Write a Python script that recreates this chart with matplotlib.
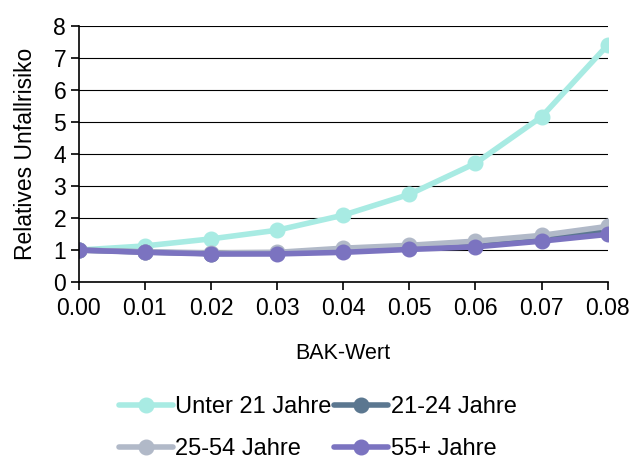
import numpy as np
import matplotlib
matplotlib.use("Agg")
import matplotlib.pyplot as plt
from matplotlib.ticker import FormatStrFormatter

plt.rcParams['font.family'] = ['Liberation Sans', 'DejaVu Sans']

# Daten
bak = [0.00, 0.01, 0.02, 0.03, 0.04, 0.05, 0.06, 0.07, 0.08]
unter_21 = [1.0, 1.13, 1.35, 1.62, 2.09, 2.74, 3.71, 5.16, 7.4]
jahre_21_24 = [1.0, 0.94, 0.89, 0.90, 0.98, 1.08, 1.2, 1.38, 1.65]
jahre_25_54 = [1.0, 0.95, 0.91, 0.93, 1.06, 1.15, 1.28, 1.46, 1.74]
jahre_55 = [1.0, 0.93, 0.88, 0.88, 0.93, 1.02, 1.10, 1.28, 1.49]

series = [
    ("Unter 21 Jahre", unter_21, "#a8ebe3"),
    ("21-24 Jahre", jahre_21_24, "#5b7790"),
    ("25-54 Jahre", jahre_25_54, "#b1b9c8"),
    ("55+ Jahre", jahre_55, "#7b73c0"),
]

fig = plt.figure(figsize=(6.35, 4.61), dpi=100)
ax = fig.add_axes([0.124, 0.388, 0.833, 0.556])

lines = []
for name, vals, col in series:
    l, = ax.plot(bak, vals, color=col, lw=4, marker='o', ms=10.5, label=name, solid_capstyle='round')
    lines.append(l)

ax.set_xlim(0, 0.08)
ax.set_ylim(0, 8)
ax.set_xticks(bak)
ax.set_yticks(range(0, 9))
ax.xaxis.set_major_formatter(FormatStrFormatter('%.2f'))
ax.yaxis.grid(True, color='black', lw=0.8)
ax.set_axisbelow(True)
for s in ['top', 'right']:
    ax.spines[s].set_visible(False)
ax.spines['left'].set_linewidth(1.2)
ax.spines['bottom'].set_linewidth(1.2)
ax.tick_params(axis='both', labelsize=16.5, length=6, width=1.2, direction='out')
ax.tick_params(axis='x', pad=5)
ax.tick_params(axis='y', pad=3)
ax.set_xlabel("BAK-Wert", fontsize=15.5, labelpad=16)
ax.set_ylabel("Relatives Unfallrisiko", fontsize=16.5, labelpad=12)

# Legende zeilenweise: matplotlib füllt spaltenweise, daher umsortieren
order = [0, 2, 1, 3]
fig.legend([lines[i] for i in order], [series[i][0] for i in order],
           loc='lower center', bbox_to_anchor=(0.5, -0.045), ncol=2, frameon=False,
           fontsize=17, handlelength=2.3, handletextpad=0.1, columnspacing=0.1,
           labelspacing=0.85)

fig.savefig("out.png", dpi=100)
